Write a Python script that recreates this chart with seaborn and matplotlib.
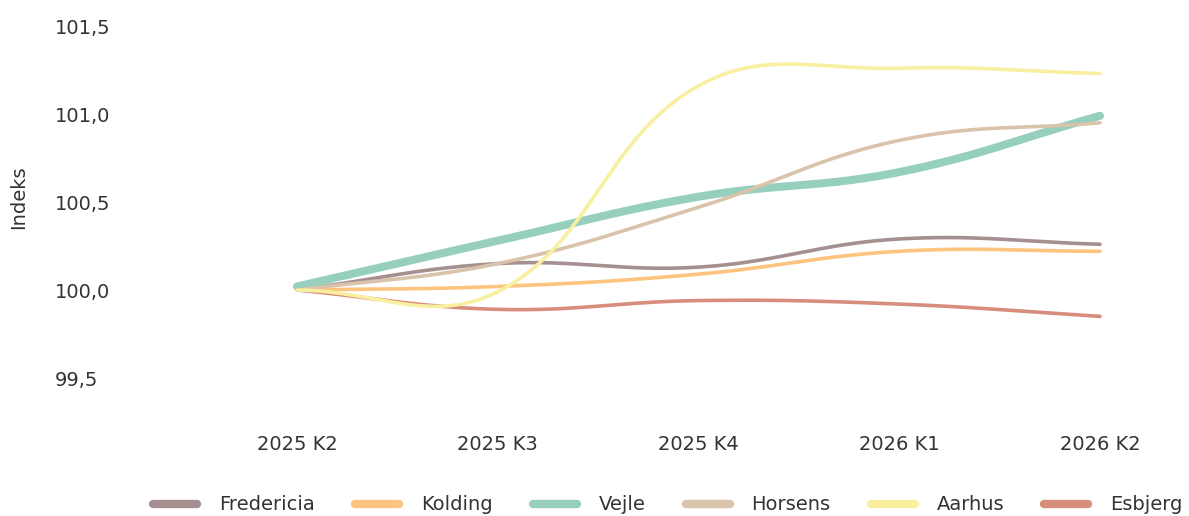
import numpy as np
import pandas as pd
import seaborn as sns
import matplotlib.pyplot as plt

# data
quarters = ["2025 K2", "2025 K3", "2025 K4", "2026 K1", "2026 K2"]
fredericia = [100.0, 100.15, 100.13, 100.29, 100.26]
kolding = [100.0, 100.02, 100.09, 100.22, 100.22]
vejle = [100.02, 100.28, 100.53, 100.67, 100.99]
horsens = [100.0, 100.15, 100.47, 100.85, 100.95]
aarhus = [100.0, 99.99, 101.16, 101.26, 101.23]
esbjerg = [100.0, 99.89, 99.94, 99.92, 99.85]

series = ["Fredericia", "Kolding", "Vejle", "Horsens", "Aarhus", "Esbjerg"]
values = [fredericia, kolding, vejle, horsens, aarhus, esbjerg]
colors = ["#a68f91", "#fcc47f", "#97cfbf", "#d9c3aa", "#f8f0a0", "#d68d7b"]
widths = [2.6, 2.6, 5.8, 2.6, 2.6, 2.6]
zorders = [3, 4, 5, 6, 8, 7]

yticks = [99.5, 100.0, 100.5, 101.0, 101.5]
ytick_labels = ["99,5", "100,0", "100,5", "101,0", "101,5"]

sns.set_theme(style="white")
plt.rcParams["font.family"] = ["DejaVu Sans"]
text_col = "#333333"

W, H = 1189, 516
fig = plt.figure(figsize=(W / 100, H / 100), dpi=100)
left, right, top, bottom = 130, 1160, 26, 378
ax = fig.add_axes([left / W, 1 - bottom / H, (right - left) / W, (bottom - top) / H])

# x=0 sits at 297px and x=4 at 1100px
ppu = (1100 - 297) / 4
ax.set_xlim(-(297 - left) / ppu, 4 + (right - 1100) / ppu)
ax.set_ylim(99.5, 101.5)


def smooth(xs, ys, tension=0.4, steps=60):
    # bezier spline through the points, control points built in pixel space
    pts = ax.transData.transform(np.column_stack([xs, ys]))
    n = len(pts)
    pc, nc = [], []
    for i in range(n):
        prv = pts[i - 1] if i > 0 else pts[i]
        cur = pts[i]
        nxt = pts[i + 1] if i < n - 1 else pts[i]
        d01 = np.hypot(*(cur - prv))
        d12 = np.hypot(*(nxt - cur))
        s01 = d01 / (d01 + d12)
        s12 = d12 / (d01 + d12)
        pc.append(cur - tension * s01 * (nxt - prv))
        nc.append(cur + tension * s12 * (nxt - prv))
    t = np.linspace(0, 1, steps)[:, None]
    out = []
    for i in range(n - 1):
        p0, p1, p2, p3 = pts[i], nc[i], pc[i + 1], pts[i + 1]
        b = ((1 - t) ** 3) * p0 + 3 * ((1 - t) ** 2) * t * p1 + 3 * (1 - t) * t ** 2 * p2 + t ** 3 * p3
        out.append(b if i == 0 else b[1:])
    out = np.vstack(out)
    return ax.transData.inverted().transform(out)


x = np.arange(len(quarters))
for i, (name, vals) in enumerate(zip(series, values)):
    curve = smooth(x, vals)
    df = pd.DataFrame({"x": curve[:, 0], "y": curve[:, 1]})
    sns.lineplot(data=df, x="x", y="y", ax=ax, color=colors[i], linewidth=widths[i],
                 sort=False, estimator=None, label=name, solid_capstyle="round",
                 zorder=zorders[i])

ax.set_xticks(x)
ax.set_xticklabels(quarters)
ax.set_yticks(yticks)
ax.set_yticklabels(ytick_labels)
ax.set_xlabel("")
ax.set_ylabel("")
ax.tick_params(axis="x", length=0, pad=41, labelsize=14, labelcolor=text_col)
ax.tick_params(axis="y", length=0, pad=54, labelsize=14, labelcolor=text_col)
for lab in ax.get_yticklabels():
    lab.set_ha("left")
for s in ax.spines.values():
    s.set_visible(False)
ax.grid(False)

fig.text(19 / W, 1 - 197 / H, "Indeks", rotation=90, ha="center", va="center",
         fontsize=14, color=text_col)

fs = 14
px = fs * 100 / 72
leg = ax.legend(loc="center", bbox_to_anchor=(668 / W, 11 / H), bbox_transform=fig.transFigure,
                ncol=6, frameon=False, fontsize=fs, handlelength=44 / px,
                handletextpad=22 / px, columnspacing=40 / px, labelcolor=text_col)
for h in leg.legend_handles:
    h.set_linewidth(6)
    h.set_solid_capstyle("round")

fig.savefig("out.png", dpi=100, facecolor="white")
